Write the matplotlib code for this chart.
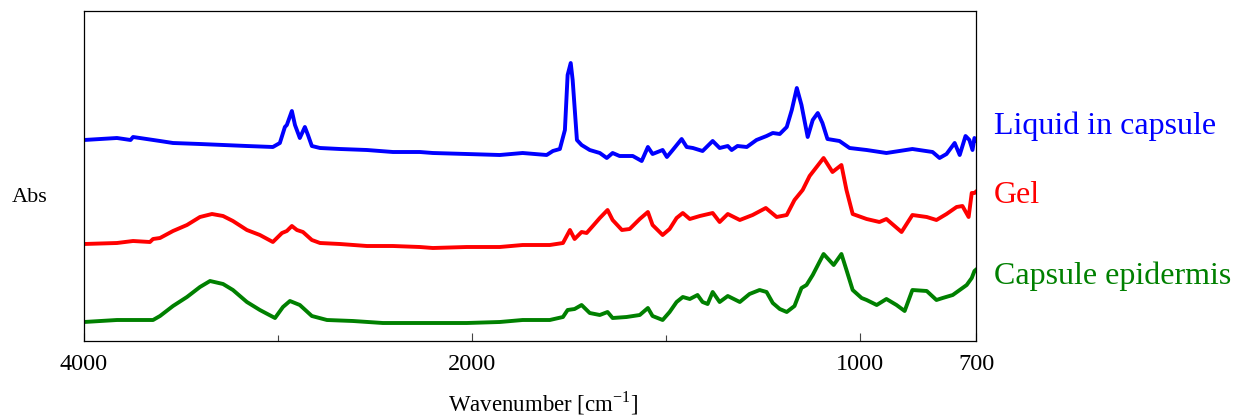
import numpy as np
import matplotlib
matplotlib.use("Agg")
import matplotlib.pyplot as plt

plt.rcParams["font.family"] = ["Liberation Serif", "DejaVu Serif"]
plt.rcParams["mathtext.fontset"] = "custom"
plt.rcParams["mathtext.rm"] = "Liberation Serif"

# wavenumber (cm-1) and offset absorbance (arbitrary units)
liquid_wn = [4000, 3830, 3760, 3747, 3608, 3541, 3402, 3160, 3026, 2990, 2964, 2954,
             2928, 2912, 2887, 2861, 2845, 2825, 2783, 2680, 2541, 2407, 2268, 2201,
             2026, 1928, 1869, 1807, 1791, 1773, 1760, 1753, 1745, 1740, 1729, 1717,
             1696, 1670, 1652, 1637, 1619, 1585, 1562, 1546, 1534, 1508, 1497, 1482,
             1459, 1446, 1430, 1405, 1379, 1361, 1340, 1330, 1315, 1291, 1266, 1240,
             1224, 1206, 1188, 1175, 1162, 1150, 1134, 1121, 1108, 1096, 1083, 1052,
             1026, 982, 931, 864, 812, 794, 776, 755, 742, 727, 717, 709, 704, 701]
liquid_abs = [201, 203, 201, 204, 200, 198, 197, 195, 194, 198, 214, 216,
              230, 216, 203, 214, 206, 195, 193, 192, 191, 189, 189, 188,
              187, 186, 188, 186, 190, 192, 211, 266, 278, 261, 201, 196,
              191, 188, 183, 188, 185, 185, 180, 194, 187, 191, 184, 191,
              202, 194, 193, 190, 200, 193, 195, 191, 195, 194, 201, 205,
              208, 207, 214, 231, 253, 236, 204, 221, 228, 218, 202, 200,
              193, 191, 188, 192, 189, 183, 187, 198, 186, 205, 201, 191, 203, 201]

gel_wn = [4000, 3830, 3747, 3660, 3644, 3608, 3541, 3469, 3402, 3340, 3283, 3232,
          3160, 3093, 3026, 2979, 2954, 2928, 2902, 2871, 2825, 2783, 2680, 2541,
          2407, 2268, 2201, 2026, 1928, 1869, 1799, 1765, 1747, 1735, 1717, 1704,
          1688, 1670, 1650, 1637, 1613, 1593, 1567, 1546, 1534, 1508, 1490, 1472,
          1456, 1438, 1412, 1379, 1361, 1340, 1309, 1276, 1242, 1214, 1188, 1168,
          1147, 1129, 1111, 1093, 1070, 1047, 1034, 1018, 982, 949, 931, 892,
          864, 827, 802, 776, 750, 735, 719, 711, 704, 701]
gel_abs = [97, 98, 100, 99, 102, 103, 110, 116, 124, 127, 125, 120,
           111, 106, 99, 108, 110, 115, 111, 109, 101, 98, 97, 95,
           95, 94, 93, 94, 94, 96, 96, 98, 111, 102, 109, 108,
           115, 123, 131, 121, 111, 112, 122, 129, 116, 106, 112, 123,
           128, 122, 125, 128, 119, 127, 121, 126, 133, 124, 126, 141,
           151, 165, 174, 183, 169, 176, 151, 127, 122, 119, 122, 109,
           126, 124, 121, 127, 134, 135, 124, 148, 148, 149]

epi_wn = [4000, 3830, 3747, 3644, 3608, 3541, 3469, 3402, 3350, 3283, 3232, 3160,
          3093, 3015, 2974, 2938, 2887, 2825, 2747, 2613, 2459, 2268, 2201, 2026,
          1928, 1869, 1799, 1765, 1753, 1735, 1717, 1696, 1670, 1650, 1637, 1601,
          1567, 1546, 1534, 1508, 1490, 1472, 1456, 1438, 1418, 1405, 1392, 1379,
          1361, 1340, 1309, 1284, 1258, 1240, 1224, 1206, 1188, 1168, 1150, 1137,
          1121, 1093, 1067, 1047, 1034, 1018, 995, 982, 956, 931, 905, 884,
          864, 827, 802, 786, 760, 742, 724, 711, 704, 701]
epi_abs = [19, 21, 21, 21, 25, 35, 44, 54, 60, 57, 51, 39,
           31, 23, 34, 40, 36, 25, 21, 20, 18, 18, 18, 18,
           19, 21, 21, 24, 31, 32, 36, 28, 26, 29, 23, 24,
           26, 33, 25, 21, 29, 39, 44, 42, 46, 39, 37, 49,
           39, 45, 39, 47, 51, 49, 38, 32, 29, 35, 53, 56,
           66, 87, 76, 87, 71, 51, 43, 41, 36, 42, 36, 30,
           51, 50, 41, 43, 46, 51, 56, 63, 70, 71]

labels = ["Liquid in capsule", "Gel", "Capsule epidermis"]
colors = ["#0000ff", "#ff0000", "#008000"]


# x axis is expanded 2x below 2000 cm-1
def fwd(x):
    x = np.asarray(x, dtype=float)
    return np.where(x >= 2000, x, 2 * x - 2000)


def inv(u):
    u = np.asarray(u, dtype=float)
    return np.where(u >= 2000, u, (u + 2000) / 2)


fig = plt.figure(figsize=(12.34, 4.18), dpi=100)
ax = fig.add_axes([84 / 1234, 77 / 418, 892 / 1234, 330 / 418])

ax.plot(liquid_wn, liquid_abs, color=colors[0], lw=2.8)
ax.plot(gel_wn, gel_abs, color=colors[1], lw=2.8)
ax.plot(epi_wn, epi_abs, color=colors[2], lw=2.8)

ax.set_xscale("function", functions=(fwd, inv))
ax.set_xlim(4000, 700)
ax.set_ylim(0, 330)
ax.set_xticks([4000, 2000, 1000, 700])
ax.set_xticklabels(["4000", "2000", "1000", "700"])
ax.set_xticks([3000, 1500], minor=True)
ax.tick_params(axis="x", which="major", direction="in", length=6, width=0.8,
               labelsize=17.5, pad=9, color="#444444")
ax.tick_params(axis="x", which="minor", direction="in", length=4, width=0.8,
               color="#444444")
ax.set_yticks([])
for s in ax.spines.values():
    s.set_linewidth(0.9)

fig.text(543 / 1234, 1 - 411 / 418, "Wavenumber [cm$^{\\mathrm{-1}}$]",
         ha="center", va="baseline", fontsize=16.5)
fig.text(30 / 1234, 1 - 197 / 418, "Abs", ha="center", va="center", fontsize=16)

for lab, c, yb in zip(labels, colors, [134, 203, 284]):
    fig.text(994 / 1234, 1 - yb / 418, lab, color=c, fontsize=23,
             ha="left", va="baseline")

fig.savefig("out.png", dpi=100)
